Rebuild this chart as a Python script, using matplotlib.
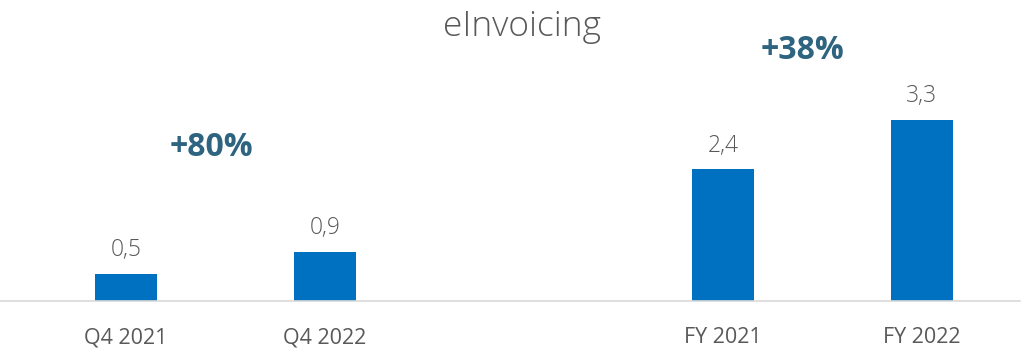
import matplotlib.pyplot as plt

categories = ['Q4 2021', 'Q4 2022', 'FY 2021', 'FY 2022']
positions = [0, 1, 3, 4]
values = [0.5, 0.9, 2.4, 3.3]
value_labels = ['0,5', '0,9', '2,4', '3,3']
growth_labels = ['+80%', '+38%']
growth_pos = [(0.43, 2.8), (3.40, 4.56)]

plt.rcParams['font.family'] = ['Open Sans', 'DejaVu Sans']

fig = plt.figure(figsize=(10.25, 3.52), dpi=100)
ax = fig.add_axes([0, 51 / 352, 1020 / 1025, 301 / 352])

gray = '#595959'
ax.bar(positions, values, width=0.31, color='#0070C0')

# etiquetas de valor
for x, v, lab in zip(positions, values, value_labels):
    ax.annotate(lab, (x, v), xytext=(0, 8), textcoords='offset points',
                ha='center', va='bottom', fontsize=16.5, color=gray, fontweight='light')

# crecimiento
for lab, (x, y) in zip(growth_labels, growth_pos):
    ax.text(x, y, lab, ha='center', va='center', fontsize=23,
            fontweight='bold', color='#2E6480')

ax.set_xlim(-126 / 199, 894 / 199)
ax.set_ylim(0, 301 / 55)
ax.set_xticks(positions)
ax.set_xticklabels(categories, fontsize=15.5, color=gray)
ax.tick_params(axis='x', length=0, pad=19)
ax.set_yticks([])
for s in ['top', 'right', 'left']:
    ax.spines[s].set_visible(False)
ax.spines['bottom'].set_color('#D9D9D9')
ax.spines['bottom'].set_linewidth(1.2)

fig.text(522 / 1025, 1 - 27 / 352, 'eInvoicing', ha='center', va='center',
         fontsize=25.5, color=gray, fontweight='light')

fig.savefig('out.png', dpi=100)
